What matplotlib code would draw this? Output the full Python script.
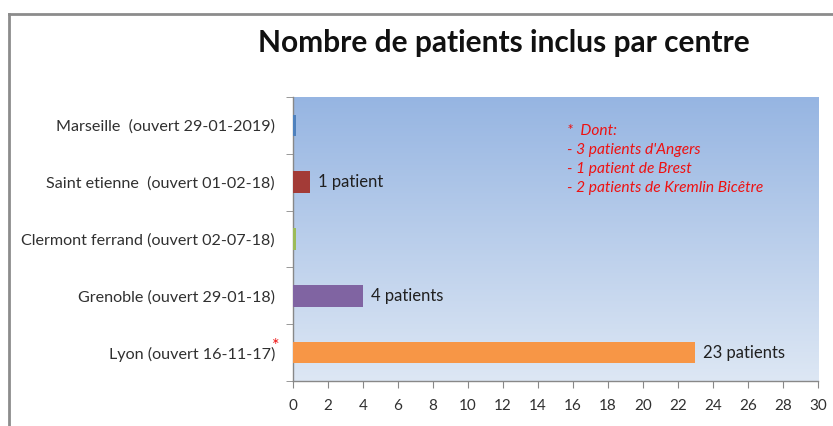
import numpy as np
import matplotlib
matplotlib.use("Agg")
import matplotlib.pyplot as plt
from matplotlib.lines import Line2D

# --- données ---
centres = ["Marseille  (ouvert 29-01-2019)",
           "Saint etienne  (ouvert 01-02-18)",
           "Clermont ferrand (ouvert 02-07-18)",
           "Grenoble (ouvert 29-01-18)",
           "Lyon (ouvert 16-11-17)"]
patients = [0, 1, 0, 4, 23]
etiquettes = ["", "1 patient", "", "4 patients", "23 patients"]
couleurs = ["#4f81bd", "#a33b37", "#9bbb59", "#8064a2", "#f79646"]
note = "*  Dont:\n- 3 patients d'Angers\n- 1 patient de Brest\n- 2 patients de Kremlin Bicêtre"

plt.rcParams['font.family'] = ['Lato', 'DejaVu Sans']

fig = plt.figure(figsize=(8.33, 4.26), dpi=100)
ax = fig.add_axes([0.3517, 0.1056, 0.982 - 0.3517, 0.7723 - 0.1056])

# fond en dégradé (style Excel)
top = np.array([150, 181, 226]) / 255
bot = np.array([221, 231, 244]) / 255
t = np.linspace(0, 1, 256)[:, None]
grad = top * (1 - t) + bot * t
ax.imshow(grad[:, None, :], extent=[0, 1, 0, 1], transform=ax.transAxes,
          aspect='auto', zorder=0)

# Excel montre un trait fin pour les barres à zéro
largeurs = np.maximum(patients, 0.17)
ypos = np.arange(len(centres))[::-1]
ax.barh(ypos, largeurs, height=0.38, color=couleurs, zorder=3)
for y, v, lab in zip(ypos, patients, etiquettes):
    if lab:
        ax.text(v + 0.45, y, lab, va='center', ha='left', fontsize=12,
                color='#202020', zorder=3)

ax.set_xlim(0, 30)
ax.set_ylim(-0.5, len(centres) - 0.5)
ax.set_xticks(np.arange(0, 31, 2))
ax.set_yticks(ypos)
ax.set_yticklabels(centres)
ax.set_yticks(np.arange(-0.5, len(centres), 1), minor=True)
ax.tick_params(axis='y', which='major', length=0, pad=13, labelsize=11.6,
               labelcolor='#303030')
ax.tick_params(axis='y', which='minor', length=5, color='#888888', direction='out')
ax.tick_params(axis='x', length=5, color='#888888', direction='out',
               labelsize=11, labelcolor='#303030', pad=8)
for s in ['top', 'right']:
    ax.spines[s].set_visible(False)
for s in ['left', 'bottom']:
    ax.spines[s].set_color('#888888')
    ax.spines[s].set_linewidth(1)

ax.text(15.66, 4.03, note, ha='left', va='top', color='#ee1111',
        fontsize=11.2, style='italic', linespacing=1.45, zorder=3)
ax.text(-1.0, 0.12, '*', ha='center', va='center', color='#ee1111',
        fontsize=13, clip_on=False)

fig.text(0.605, 0.899, "Nombre de patients inclus par centre", ha='center',
         va='center', fontsize=21.5, fontweight='bold', color='#111111')

# cadre du graphique
fig.add_artist(Line2D([0.0108, 1.0], [0.967, 0.967], transform=fig.transFigure,
                      color='#8c8c8c', linewidth=2))
fig.add_artist(Line2D([0.0108, 0.0108], [0.0, 0.967], transform=fig.transFigure,
                      color='#8c8c8c', linewidth=2))

fig.savefig("out.png", dpi=100)
